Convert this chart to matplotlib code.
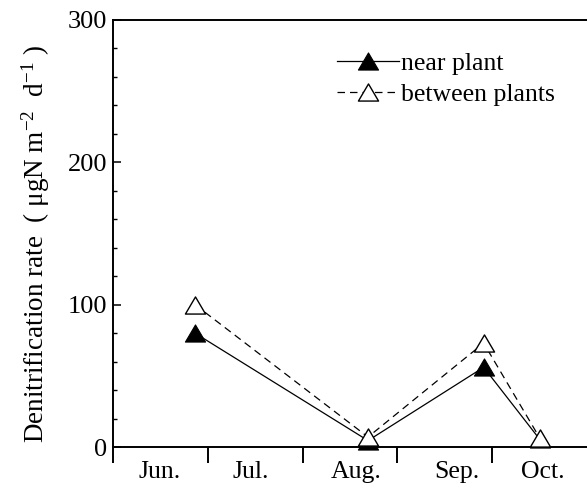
import matplotlib
matplotlib.use("Agg")
import matplotlib.pyplot as plt
from matplotlib.path import Path
from matplotlib.ticker import FixedLocator, MultipleLocator, NullFormatter, FixedFormatter

plt.rcParams['font.family'] = ['Liberation Serif', 'DejaVu Serif']
plt.rcParams['mathtext.fontset'] = 'custom'
plt.rcParams['mathtext.rm'] = 'Liberation Serif'
plt.rcParams['mathtext.it'] = 'Liberation Serif:italic'
plt.rcParams['mathtext.bf'] = 'Liberation Serif:bold'

# Data: sampling position in months since start of June (0 = Jun 1)
months = ["Jun.", "Jul.", "Aug.", "Sep.", "Oct."]
sample_time = [0.865, 2.69, 3.91, 4.50]
near_plant = [80, 4.5, 56, 5.5]
between_plants = [100, 7, 73, 6.5]

fig = plt.figure(figsize=(5.87, 4.86), dpi=100)
ax = fig.add_axes([113/587, 39/486, 474/587, 427/486])

tri = Path([(-1, -0.85), (1, -0.85), (0, 0.85), (-1, -0.85)], closed=True)

ax.plot(sample_time, near_plant, color='black', lw=0.9, marker=tri, ms=14.5,
        mfc='black', mec='black', mew=0.8, clip_on=False, zorder=3, label='near plant')
ax.plot(sample_time, between_plants, color='black', lw=0.9, ls=(0, (6, 4)), marker=tri, ms=14.5,
        mfc='white', mec='black', mew=1.0, clip_on=False, zorder=4, label='between plants')

ax.set_xlim(0, 5)
ax.set_ylim(0, 300)

ax.spines['right'].set_visible(False)
for s in ['left', 'top', 'bottom']:
    ax.spines[s].set_linewidth(1.4)

# y ticks
ax.yaxis.set_major_locator(FixedLocator([0, 100, 200, 300]))
ax.yaxis.set_minor_locator(MultipleLocator(20))
ax.tick_params(axis='y', which='major', direction='in', length=5.8, width=1.1,
               labelsize=19, pad=4)
ax.tick_params(axis='y', which='minor', direction='in', length=2.6, width=1.0)

# x ticks: boundaries as major ticks, month labels as minor ticks
ax.xaxis.set_major_locator(FixedLocator([0, 1, 2, 3, 4]))
ax.xaxis.set_major_formatter(NullFormatter())
ax.xaxis.set_minor_locator(FixedLocator([0.496, 1.455, 2.563, 3.629, 4.536]))
ax.xaxis.set_minor_formatter(FixedFormatter(months))
ax.tick_params(axis='x', which='major', direction='out', length=11.5, width=1.4)
ax.tick_params(axis='x', which='minor', length=0, labelsize=18.5, pad=10)

ax.set_ylabel('Denitrification rate  ( μgN m$^{-2}$  d$^{-1}$ )', fontsize=19.5)
ax.yaxis.set_label_coords(-0.128, 0.475)

leg = ax.legend(loc='upper right', bbox_to_anchor=(0.965, 0.96), frameon=False,
                fontsize=18.5, handlelength=2.4, handletextpad=0.1,
                labelspacing=0.3, borderaxespad=0.2)

fig.savefig('out.png', dpi=100)
